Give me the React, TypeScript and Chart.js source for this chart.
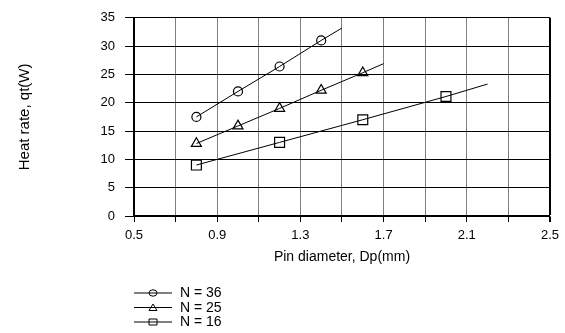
import React, { useEffect, useRef } from "react";
import { Chart, registerables } from "chart.js";

Chart.register(...registerables);

// Data (x = pin diameter in mm, y = heat rate in W); the last x of each series is the end of its fitted line
const N36_X = [0.8, 1.0, 1.2, 1.4, 1.5];
const N36_Y = [17.5, 22.0, 26.4, 31.0, 33.2];
const N25_X = [0.8, 1.0, 1.2, 1.4, 1.6, 1.7];
const N25_Y = [12.8, 15.9, 19.0, 22.2, 25.3, 26.9];
const N16_X = [0.8, 1.2, 1.6, 2.0, 2.2];
const N16_Y = [9.0, 13.0, 17.0, 21.1, 23.3];

const SERIES_LABELS = ["N = 36", "N = 25", "N = 16"];
const X_TICKS = [0.5, 0.7, 0.9, 1.1, 1.3, 1.5, 1.7, 1.9, 2.1, 2.3, 2.5];
const X_TICK_LABELS = ["0.5", "", "0.9", "", "1.3", "", "1.7", "", "2.1", "", "2.5"];
const Y_TICKS = [0, 5, 10, 15, 20, 25, 30, 35];

const X_TITLE = "Pin diameter, Dp(mm)";
const Y_TITLE = "Heat rate, qt(W)";

const FONT = "'Liberation Sans', Arial, sans-serif";
const STYLES = ["circle", "triangle", "rect"] as const;
const RADII = [4.5, 5.8, 7];

function toPoints(xs: number[], ys: number[]) {
  return xs.map((x, i) => ({ x, y: ys[i] }));
}

const legendPlugin = {
  id: "lineLegend",
  afterDraw(chart: any) {
    const ctx = chart.ctx as CanvasRenderingContext2D;
    const left = chart.chartArea.left;
    const rowsY = [293, 307.5, 322];
    ctx.save();
    SERIES_LABELS.forEach((label, i) => {
      const y = rowsY[i];
      ctx.strokeStyle = "#000";
      ctx.lineWidth = 1;
      ctx.beginPath();
      ctx.moveTo(left, y);
      ctx.lineTo(left + 38, y);
      ctx.stroke();
      const cx = left + 19;
      ctx.beginPath();
      if (STYLES[i] === "circle") {
        ctx.ellipse(cx, y, 4, 3.2, 0, 0, Math.PI * 2);
      } else if (STYLES[i] === "triangle") {
        ctx.moveTo(cx - 4, y + 3);
        ctx.lineTo(cx + 4, y + 3);
        ctx.lineTo(cx, y - 3.5);
        ctx.closePath();
      } else {
        ctx.rect(cx - 4, y - 3, 8, 6);
      }
      ctx.stroke();
      ctx.fillStyle = "#000";
      ctx.font = `14px ${FONT}`;
      ctx.textAlign = "left";
      ctx.textBaseline = "middle";
      ctx.fillText(label, left + 46, y + 0.5);
    });
    ctx.restore();
  },
};

export default function App() {
  const canvasRef = useRef<HTMLCanvasElement | null>(null);

  useEffect(() => {
    document.body.style.margin = "0";
    const canvas = canvasRef.current;
    if (!canvas) return;
    const seriesX = [N36_X, N25_X, N16_X];
    const seriesY = [N36_Y, N25_Y, N16_Y];
    const datasets = SERIES_LABELS.map((label, i) => {
      const pts = toPoints(seriesX[i], seriesY[i]);
      return {
        label,
        data: pts,
        borderColor: "#000",
        borderWidth: 1,
        backgroundColor: "rgba(0,0,0,0)",
        pointStyle: STYLES[i],
        pointRadius: pts.map((_, j) => (j === pts.length - 1 ? 0 : RADII[i])),
        pointBorderColor: "#000",
        pointBackgroundColor: "rgba(0,0,0,0)",
        pointBorderWidth: 1.2,
        tension: 0,
        fill: false,
      };
    });

    const chart = new Chart(canvas, {
      type: "line",
      data: { datasets },
      plugins: [legendPlugin],
      options: {
        animation: false,
        responsive: false,
        devicePixelRatio: 1,
        layout: { padding: { left: 0, top: 13, right: 13, bottom: 0 } },
        plugins: { legend: { display: false }, tooltip: { enabled: false } },
        scales: {
          x: {
            type: "linear",
            min: 0.5,
            max: 2.5,
            afterBuildTicks: (scale: any) => {
              scale.ticks = X_TICKS.map((v) => ({ value: v }));
            },
            afterFit: (scale: any) => {
              scale.height = 117;
            },
            ticks: {
              autoSkip: false,
              maxRotation: 0,
              color: "#000",
              padding: 6,
              font: { family: FONT, size: 13 },
              callback: (_v: any, index: number) => X_TICK_LABELS[index],
            },
            grid: {
              color: (c: any) => (c.tick && c.tick.value === 2.5 ? "#000" : "#808080"),
              lineWidth: (c: any) => (c.tick && c.tick.value === 2.5 ? 2 : 1),
              tickColor: "#000",
              tickLength: 6,
            },
            border: { color: "#000", width: 1.5 },
            title: {
              display: true,
              text: X_TITLE,
              color: "#000",
              font: { family: FONT, size: 14 },
              padding: { top: 0, bottom: 67 },
            },
          },
          y: {
            type: "linear",
            min: 0,
            max: 35,
            afterBuildTicks: (scale: any) => {
              scale.ticks = Y_TICKS.map((v) => ({ value: v }));
            },
            afterFit: (scale: any) => {
              scale.width = 134;
            },
            ticks: {
              color: "#000",
              padding: 10,
              font: { family: FONT, size: 13 },
            },
            grid: {
              color: "#000",
              lineWidth: 1,
              tickColor: "#000",
              tickLength: 9,
            },
            border: { color: "#000", width: 2 },
            title: {
              display: true,
              text: Y_TITLE,
              color: "#000",
              font: { family: FONT, size: 15 },
              padding: { top: 16, bottom: 0 },
            },
          },
        },
      },
    });
    return () => chart.destroy();
  }, []);

  return (
    <div style={{ width: 565, height: 333, background: "#fff" }}>
      <canvas ref={canvasRef} width={565} height={333} style={{ display: "block" }} />
    </div>
  );
}
